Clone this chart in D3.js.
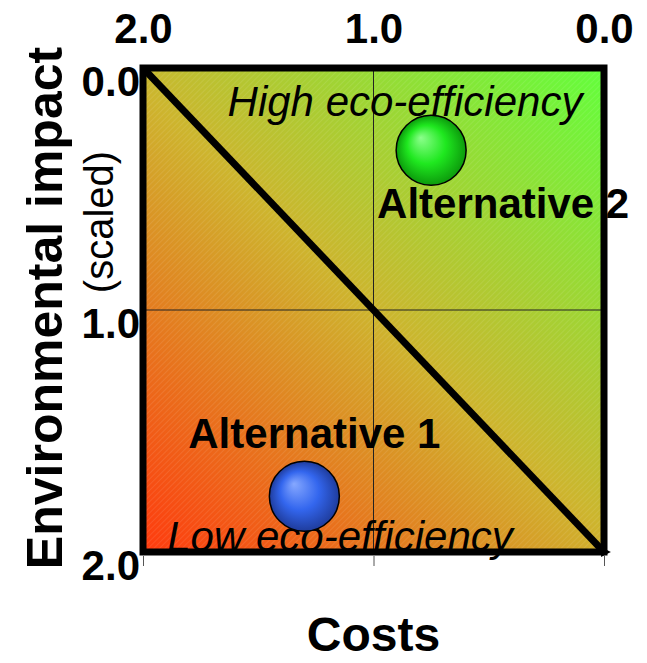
<!DOCTYPE html>
<html>
<head>
<script src="https://d3js.org/d3.v7.min.js"></script>
<style>
  body { margin: 0; background: white; }
  text { font-family: "Liberation Sans", Arial, sans-serif; }
</style>
</head>
<body>
<div id="chart"></div>
<script>
// data
var tickValues = [2, 1, 0];
var alternatives = ["Alternative 1", "Alternative 2"];
var costs = [1.3, 0.75];        // x value (scaled)
var impacts = [1.77, 0.34];     // y value (scaled)
var ballColors = [["#86a8ff", "#3366ee", "#1f3c9c"], ["#8cff8c", "#1fe81f", "#0c9a0c"]];
var zoneLabels = ["High eco-efficiency", "Low eco-efficiency"];

var width = 647, height = 663;
var margin = { top: 68, right: 43, bottom: 111, left: 143 };

var svg = d3.select("#chart").append("svg")
    .attr("width", width)
    .attr("height", height);

var x = d3.scaleLinear().domain([2, 0]).range([margin.left, width - margin.right]);
var y = d3.scaleLinear().domain([0, 2]).range([margin.top, height - margin.bottom]);

var defs = svg.append("defs");

var bg = defs.append("linearGradient")
    .attr("id", "bg")
    .attr("gradientUnits", "userSpaceOnUse")
    .attr("x1", x(2)).attr("y1", y(2))
    .attr("x2", x(0)).attr("y2", y(0));
bg.append("stop").attr("offset", "0").attr("stop-color", "#ff3a0e");
bg.append("stop").attr("offset", "0.5").attr("stop-color", "#cdb52e");
bg.append("stop").attr("offset", "1").attr("stop-color", "#62ff3c");

var hatch = defs.append("pattern")
    .attr("id", "hatch")
    .attr("patternUnits", "userSpaceOnUse")
    .attr("width", 4).attr("height", 4)
    .attr("patternTransform", "rotate(45)");
hatch.append("line")
    .attr("x1", 0).attr("y1", 0).attr("x2", 0).attr("y2", 4)
    .attr("stroke", "white").attr("stroke-width", 1).attr("stroke-opacity", 0.18);

ballColors.forEach(function (c, i) {
    var g = defs.append("radialGradient")
        .attr("id", "ball" + i)
        .attr("cx", "50%").attr("cy", "50%").attr("r", "50%")
        .attr("fx", "35%").attr("fy", "32%");
    g.append("stop").attr("offset", "0").attr("stop-color", c[0]);
    g.append("stop").attr("offset", "0.55").attr("stop-color", c[1]);
    g.append("stop").attr("offset", "1").attr("stop-color", c[2]);
});

defs.append("marker")
    .attr("id", "tip")
    .attr("viewBox", "0 0 10 10")
    .attr("refX", 3).attr("refY", 5)
    .attr("markerWidth", 1.4).attr("markerHeight", 1.4)
    .attr("orient", "0")
    .append("path")
    .attr("d", "M0,0 L10,5 L0,10 Z")
    .attr("fill", "black");

// background
svg.append("rect")
    .attr("x", x(2)).attr("y", y(0))
    .attr("width", x(0) - x(2)).attr("height", y(2) - y(0))
    .attr("fill", "url(#bg)");
svg.append("rect")
    .attr("x", x(2)).attr("y", y(0))
    .attr("width", x(0) - x(2)).attr("height", y(2) - y(0))
    .attr("fill", "url(#hatch)");

// grid lines
svg.append("line")
    .attr("x1", x(1)).attr("x2", x(1))
    .attr("y1", y(0)).attr("y2", y(2))
    .attr("stroke", "#222").attr("stroke-width", 1);
svg.append("line")
    .attr("x1", x(2)).attr("x2", x(0))
    .attr("y1", y(1)).attr("y2", y(1))
    .attr("stroke", "#222").attr("stroke-width", 1);

// bottom tick marks
svg.append("g")
    .attr("transform", "translate(0," + (y(2) + 4) + ")")
    .call(d3.axisBottom(x).tickValues(tickValues).tickSize(10).tickFormat(""))
    .call(function (g) { g.select(".domain").remove(); })
    .selectAll("line").attr("stroke", "#555");

// frame
svg.append("rect")
    .attr("x", x(2)).attr("y", y(0))
    .attr("width", x(0) - x(2)).attr("height", y(2) - y(0))
    .attr("fill", "none")
    .attr("stroke", "black").attr("stroke-width", 7);

// diagonal
svg.append("line")
    .attr("x1", x(2)).attr("y1", y(0))
    .attr("x2", x(0)).attr("y2", y(2))
    .attr("stroke", "black").attr("stroke-width", 7)
    .attr("marker-end", "url(#tip)");

// axes labels
var topAxis = svg.append("g")
    .attr("transform", "translate(0," + y(0) + ")")
    .call(d3.axisTop(x).tickValues(tickValues).tickSize(0).tickPadding(25).tickFormat(d3.format(".1f")));
topAxis.select(".domain").remove();
topAxis.selectAll("text")
    .style("font-family", "'Liberation Sans', Arial, sans-serif")
    .style("font-size", "42px").style("font-weight", "bold").attr("fill", "black");

var leftAxis = svg.append("g")
    .attr("transform", "translate(" + x(2) + ",0)")
    .call(d3.axisLeft(y).tickValues([0, 1, 2]).tickSize(0).tickPadding(3).tickFormat(d3.format(".1f")));
leftAxis.select(".domain").remove();
leftAxis.selectAll("text")
    .attr("dy", "0.65em")
    .style("font-family", "'Liberation Sans', Arial, sans-serif")
    .style("font-size", "42px").style("font-weight", "bold").attr("fill", "black");

// axis titles
svg.append("text")
    .attr("transform", "translate(62," + 308 + ") rotate(-90)")
    .attr("text-anchor", "middle")
    .style("font-size", "50px").style("font-weight", "bold")
    .text("Environmental impact");
svg.append("text")
    .attr("transform", "translate(113," + 222 + ") rotate(-90)")
    .attr("text-anchor", "middle")
    .style("font-size", "40px")
    .text("(scaled)");
svg.append("text")
    .attr("x", x(1)).attr("y", 651)
    .attr("text-anchor", "middle")
    .style("font-size", "48px").style("font-weight", "bold")
    .text("Costs");

// zone labels
svg.append("text")
    .attr("x", 405).attr("y", 116)
    .attr("text-anchor", "middle")
    .style("font-size", "42px").style("font-style", "italic")
    .text(zoneLabels[0]);
svg.append("text")
    .attr("x", 340).attr("y", 551)
    .attr("text-anchor", "middle")
    .style("font-size", "42px").style("font-style", "italic")
    .text(zoneLabels[1]);

// alternatives
alternatives.forEach(function (name, i) {
    svg.append("circle")
        .attr("cx", x(costs[i])).attr("cy", y(impacts[i]))
        .attr("r", 35)
        .attr("fill", "url(#ball" + i + ")")
        .attr("stroke", "black").attr("stroke-width", 1.5);
});
svg.append("text")
    .attr("x", x(costs[0]) + 10).attr("y", y(impacts[0]) - 48)
    .attr("text-anchor", "middle")
    .style("font-size", "42px").style("font-weight", "bold")
    .text(alternatives[0]);
svg.append("text")
    .attr("x", x(costs[1]) + 72).attr("y", y(impacts[1]) + 68)
    .attr("text-anchor", "middle")
    .style("font-size", "42px").style("font-weight", "bold")
    .text(alternatives[1]);
</script>
</body>
</html>
